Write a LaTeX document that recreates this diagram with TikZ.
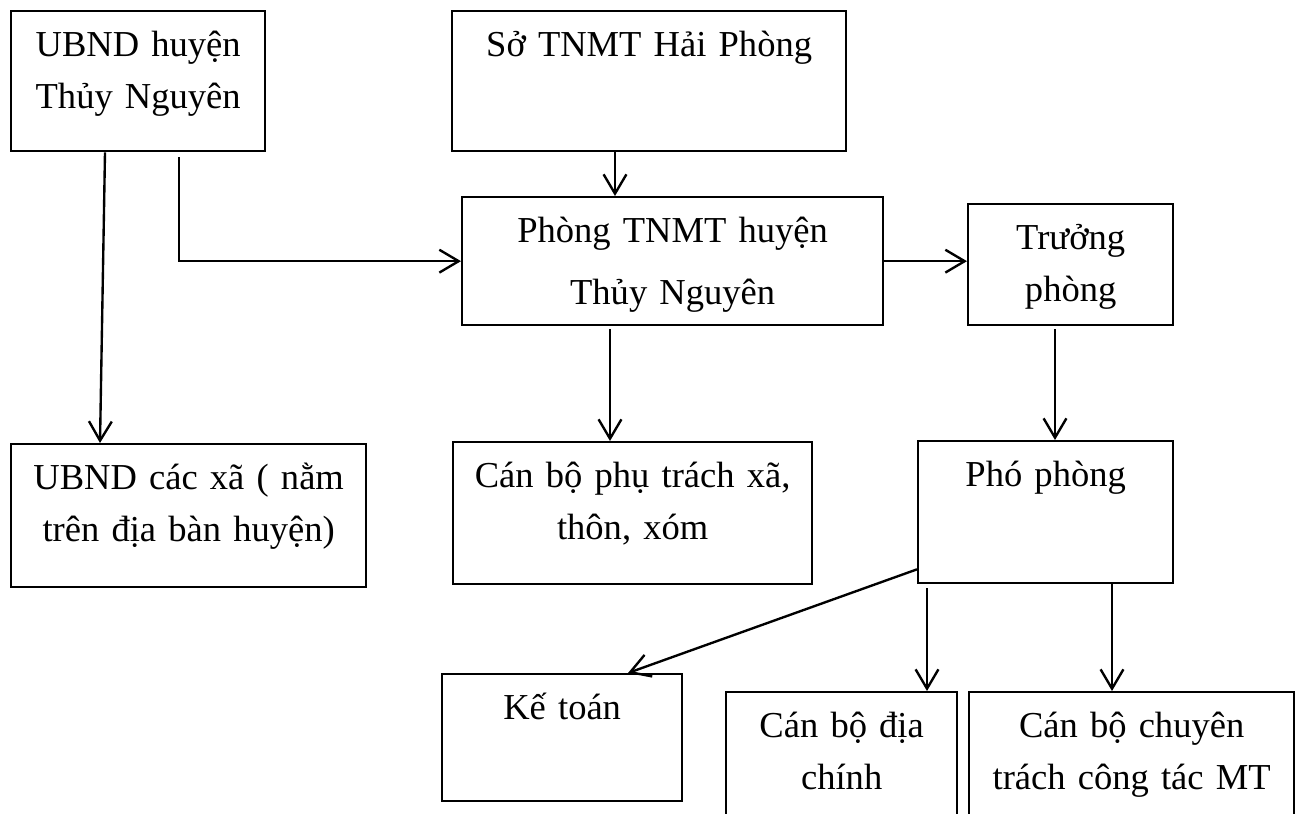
\documentclass[tikz,border=0pt]{standalone}
\usepackage{fontspec}
\setmainfont{Liberation Serif}
\usepackage{tikz}
\usetikzlibrary{arrows.meta,calc}

\begin{document}
\begin{tikzpicture}[->,>={Straight Barb[length=11pt,width=13pt]},line width=1.35pt,
                    x=0.02cm,y=-0.02cm,
                    font=\fontsize{20.8}{29.6}\selectfont,
                    box/.style 2 args={draw,anchor=north west,inner sep=0pt,align=center,
                      text width=#1,text height=0.9cm,text depth=#2}]
\useasboundingbox (0,0) rectangle (1295,814);
\clip (0,0) rectangle (1295,814);
\node[box={5.08cm}{1.90cm}] (ubnd) at (10,10) {UBND huyện\\Thủy Nguyên};
\node[box={7.88cm}{1.90cm}] (so) at (451,10) {Sở TNMT Hải Phòng};
\node[box={8.42cm}{1.66cm}] (phong) at (461,196) {Phòng TNMT huyện\\[6pt]Thủy Nguyên};
\node[box={4.10cm}{1.52cm}] (truong) at (967,203) {Trưởng\\phòng};
\node[box={7.10cm}{1.96cm}] (xa) at (10,443) {UBND các xã ( nằm\\trên địa bàn huyện)};
\node[box={7.18cm}{1.94cm}] (canbo) at (452,441) {Cán bộ phụ trách xã,\\thôn, xóm};
\node[box={5.10cm}{1.94cm}] (pho) at (917,440) {Phó phòng};
\node[box={4.80cm}{1.64cm}] (ketoan) at (441,673) {Kế toán};
\node[box={4.62cm}{2.10cm}] (diachinh) at (725,691) {Cán bộ địa\\chính};
\node[box={6.50cm}{2.10cm}] (chuyentrach) at (968,691) {Cán bộ chuyên\\trách công tác MT};
\draw ($(ubnd.south west)+(95,0)$) -- ($(xa.north west)+(90,0)$);
\draw ($(ubnd.south west)+(169,5)$) |- (phong.west);
\draw ($(so.south west)+(164,0)$) coordinate (s1) -- (s1 |- phong.north);
\draw (phong.east) -- (phong.east -| truong.west);
\draw ($(phong.south west)+(149,3)$) coordinate (p1) -- (p1 |- canbo.north);
\draw ($(truong.south west)+(88,3)$) coordinate (t1) -- (t1 |- pho.north);
\draw ($(pho.south west)+(0,-15)$) -- ($(ketoan.north west)+(187,0)$);
\draw ($(pho.south west)+(10,4)$) coordinate (f1) -- (f1 |- diachinh.north);
\draw ($(pho.south west)+(195,0)$) coordinate (f2) -- (f2 |- chuyentrach.north);
\end{tikzpicture}
\end{document}
